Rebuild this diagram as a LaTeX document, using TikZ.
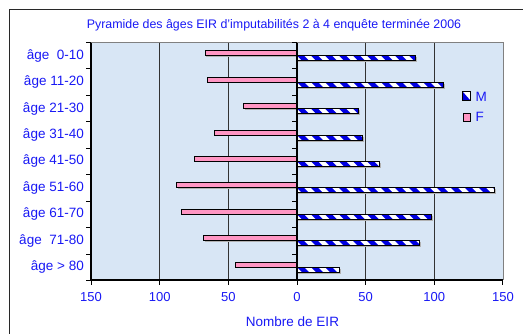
\documentclass[tikz,border=0pt]{standalone}
\usepackage{fontspec}
\setmainfont{Liberation Sans}
\definecolor{txtblue}{RGB}{25,25,245}
\definecolor{plotbg}{RGB}{216,230,245}
\definecolor{barpink}{RGB}{255,150,195}
\definecolor{stripeblue}{RGB}{0,0,225}
\definecolor{gridc}{RGB}{50,50,50}
\definecolor{framec}{RGB}{40,40,40}
\begin{document}
\begin{tikzpicture}[x=1pt,y=-1pt,
  lbl/.style={text=txtblue,font=\fontsize{13.5}{15}\selectfont,inner sep=0pt},
  ticklbl/.style={text=txtblue,font=\fontsize{13}{15}\selectfont,inner sep=0pt},
  titlelbl/.style={text=txtblue,font=\fontsize{12.4}{14}\selectfont,inner sep=0pt},
  barline/.style={draw=black,line width=0.9pt},
  axisline/.style={draw=black,line width=1.2pt}]
\def\ux{1.3733}
\useasboundingbox (0,0) rectangle (523,333);
\fill[white] (0,0) rectangle (523,333);
% outer frame
\draw[framec,line width=1.6pt] (9.5,345) -- (9.5,9.5) -- (540,9.5);
% plot area
\fill[plotbg] (91,42.5) rectangle (503,280);
\draw[gray,line width=0.6pt] (91,42.5) -- (503,42.5) -- (503,280);
\draw[gray,line width=1.8pt] (91,279.5) -- (503,279.5);
% grid lines
\foreach \v in {-100,-50,50,100}
  \draw[gridc,line width=0.9pt] ({297+\ux*\v},42.5) -- ({297+\ux*\v},279);
% left axis with ticks
\draw[axisline] (91,42.5) -- (91,280);
\foreach \k in {0,...,9}
  \draw[black,line width=1pt] (86,{42.5+26.44*\k}) -- (91,{42.5+26.44*\k});
% bars
\foreach \f/\m [count=\i from 0] in {67/86,65/107,39/45,60/48,75/60,88/144,84/98,68/89,45/31} {
  \pgfmathsetmacro\c{42.5+26.44*(\i+0.5)}
  % F bar (pink)
  \fill[gray!60] ({297-\ux*\f+1.5},{\c-3.5}) rectangle (297,{\c+1});
  \draw[barline,fill=barpink] ({297-\ux*\f},{\c-5}) rectangle (297,\c);
  % M bar (striped)
  \fill[gray!60] (297,{\c+1.5}) rectangle ({297+\ux*\m+1.5},{\c+6.5});
  \begin{scope}
    \clip (297,\c) rectangle ({297+\ux*\m},{\c+5});
    \fill[white] (297,\c) rectangle ({297+\ux*\m},{\c+5});
    \foreach \s in {-14,0,14,...,210}
      \fill[stripeblue] ({297+\s},\c) -- ++(7,0) -- ++(5,5) -- ++(-7,0) -- cycle;
  \end{scope}
  \draw[barline] (297,\c) rectangle ({297+\ux*\m},{\c+5});
}
% central axis with ticks
\draw[black,line width=1.5pt] (297,42.5) -- (297,280);
\foreach \k in {0,...,9}
  \draw[black,line width=1pt] (292,{42.5+26.44*\k}) -- (297,{42.5+26.44*\k});
% bottom axis with ticks
\draw[axisline] (91,280) -- (503,280);
\foreach \v in {-150,-100,-50,0,50,100,150}
  \draw[black,line width=1pt] ({297+\ux*\v},280) -- ({297+\ux*\v},284.5);
% title
\node[titlelbl] (title) at (274,25) {Pyramide des âges EIR d'imputabilités 2 à 4 enquête terminée 2006};
% category labels
\foreach \t [count=\i from 0] in {âge~~0-10,âge 11-20,âge 21-30,âge 31-40,âge 41-50,âge 51-60,âge 61-70,âge~~71-80,âge > 80}
  \node[lbl,anchor=east] (cat\i) at (84,{42.5+26.44*(\i+0.5)}) {\t};
% tick labels
\foreach \v/\t [count=\i] in {-150/150,-100/100,-50/50,0/0,50/50,100/100,150/150}
  \node[ticklbl] (tick\i) at ({297+\ux*\v},297.5) {\t};
% axis title
\node[lbl] (xtitle) at (292.5,322) {Nombre de EIR};
% legend
\node[inner sep=0pt,minimum width=7pt,minimum height=8pt] (legMbox) at (466.5,96) {};
\fill[white] (legMbox.north west) rectangle (legMbox.south east);
\fill[stripeblue] (legMbox.north west) -- (legMbox.south west) -- (legMbox.south east) -- cycle;
\draw[black,line width=0.9pt] (legMbox.north west) rectangle (legMbox.south east);
\node[lbl,anchor=west] (legM) at (475.5,96.5) {M};
\node[draw=black,line width=0.9pt,fill=barpink,inner sep=0pt,minimum width=7pt,minimum height=8pt] (legFbox) at (466.5,117) {};
\node[lbl,anchor=west] (legF) at (475.5,117.3) {F};
\end{tikzpicture}
\end{document}
